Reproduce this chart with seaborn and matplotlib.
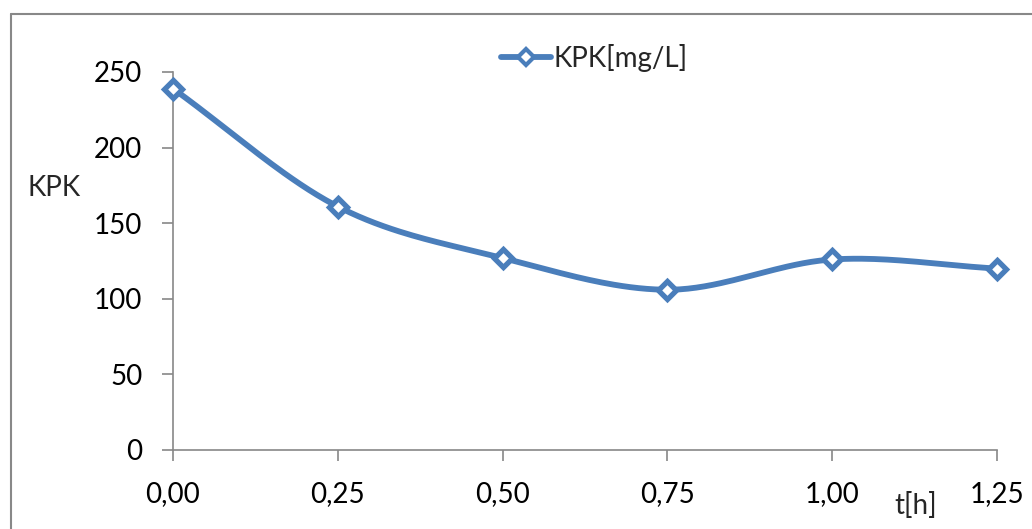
import numpy as np
import pandas as pd
import matplotlib
matplotlib.use("Agg")
import matplotlib.pyplot as plt
import seaborn as sns
from matplotlib.lines import Line2D

# Data
t_hours = [0.00, 0.25, 0.50, 0.75, 1.00, 1.25]
kpk_values = [239, 161, 127, 106, 126, 120]
x_tick_labels = ["0,00", "0,25", "0,50", "0,75", "1,00", "1,25"]
y_ticks = [0, 50, 100, 150, 200, 250]
series_name = "KPK[mg/L]"
y_label = "KPK"
x_label = "t[h]"

sns.set_style("white")
plt.rcParams['font.family'] = ['Lato', 'DejaVu Sans']

color = "#4A7EBB"
axis_gray = "#888888"

fig = plt.figure(figsize=(10.32, 5.29), dpi=100)
ax = fig.add_axes([173/1032, 1 - 450/529, (997-173)/1032, (450-72)/529])

# Excel-style smoothed line (Catmull-Rom through data points)
def catmull_rom(xs, ys, n=40):
    xs = np.asarray(xs, float); ys = np.asarray(ys, float)
    px = np.concatenate([[2*xs[0]-xs[1]], xs, [2*xs[-1]-xs[-2]]])
    py = np.concatenate([[2*ys[0]-ys[1]], ys, [2*ys[-1]-ys[-2]]])
    outx, outy = [], []
    for i in range(1, len(px)-2):
        s = np.linspace(0, 1, n, endpoint=(i == len(px)-3))
        p0, p1, p2, p3 = (np.array([px[j], py[j]]) for j in (i-1, i, i+1, i+2))
        c1 = p1 + (p2 - p0) / 6
        c2 = p2 - (p3 - p1) / 6
        pts = ((1-s)**3)[:, None]*p1 + (3*(1-s)**2*s)[:, None]*c1 + (3*(1-s)*s**2)[:, None]*c2 + (s**3)[:, None]*p2
        outx.extend(pts[:, 0]); outy.extend(pts[:, 1])
    return np.array(outx), np.array(outy)

sx, sy = catmull_rom(t_hours, kpk_values)
smooth = pd.DataFrame({"t": sx, "kpk": sy})
points = pd.DataFrame({"t": t_hours, "kpk": kpk_values})

sns.lineplot(data=smooth, x="t", y="kpk", ax=ax, color=color, linewidth=4.2,
             sort=False, estimator=None, legend=False)
ax.plot(points["t"], points["kpk"], linestyle="none", marker="D", markersize=9.5,
        markerfacecolor="white", markeredgecolor=color, markeredgewidth=3.8,
        zorder=5, clip_on=False)
for ln in ax.lines:
    ln.set_clip_on(False)

ax.set_xlim(0, 1.25)
ax.set_ylim(0, 250)
ax.set_xticks(t_hours)
ax.set_xticklabels(x_tick_labels)
ax.set_yticks(y_ticks)
ax.set_yticklabels([str(v) for v in y_ticks])
ax.set_xlabel("")
ax.set_ylabel("")

for side in ["top", "right"]:
    ax.spines[side].set_visible(False)
for side in ["left", "bottom"]:
    ax.spines[side].set_color(axis_gray)
    ax.spines[side].set_linewidth(1.2)
ax.tick_params(axis="both", which="both", direction="out", length=8, width=1.2,
               color=axis_gray, labelsize=20, labelcolor="black")
ax.tick_params(axis="x", pad=14, bottom=True)
ax.tick_params(axis="y", pad=14, left=True)

fig.text(28/1032, 1 - 188/529, y_label, fontsize=20, ha="left", va="center")
fig.text(916/1032, 1 - 505/529, x_label, fontsize=20, ha="center", va="center")

handle = Line2D([], [], color=color, linewidth=4.2, marker="D", markersize=8,
                markerfacecolor="white", markeredgecolor=color, markeredgewidth=3)
fig.legend([handle], [series_name], loc="center", bbox_to_anchor=(594/1032, 1 - 58/529),
           frameon=False, fontsize=20, handlelength=1.8, handletextpad=0.1)

# Outer chart border (top and left visible)
fig.add_artist(Line2D([11/1032, 1], [1 - 14/529, 1 - 14/529], transform=fig.transFigure,
                      color=axis_gray, linewidth=1.5))
fig.add_artist(Line2D([11/1032, 11/1032], [0, 1 - 14/529], transform=fig.transFigure,
                      color=axis_gray, linewidth=1.5))

fig.savefig("out.png", dpi=100)
